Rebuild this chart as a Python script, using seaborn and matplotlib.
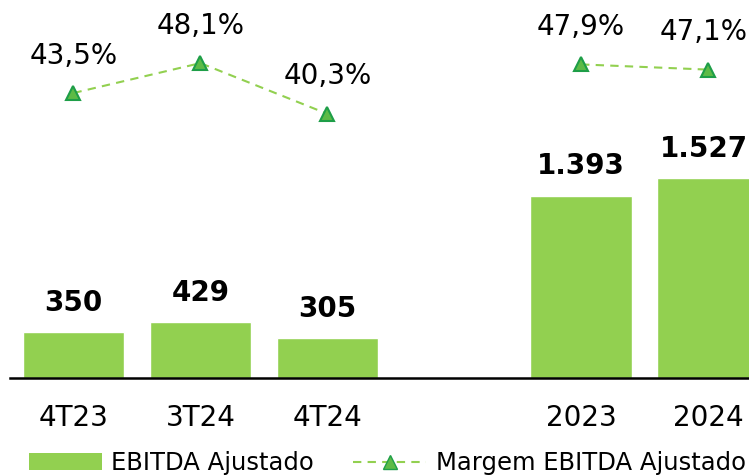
import pandas as pd
import seaborn as sns
import matplotlib.pyplot as plt
from matplotlib.lines import Line2D
from matplotlib.patches import Patch

# Data
periods = ['4T23', '3T24', '4T24', '2023', '2024']
ebitda = [350, 429, 305, 1393, 1527]
margem = [43.5, 48.1, 40.3, 47.9, 47.1]
ebitda_labels = ['350', '429', '305', '1.393', '1.527']
margem_labels = ['43,5%', '48,1%', '40,3%', '47,9%', '47,1%']
groups = [['4T23', '3T24', '4T24'], ['2023', '2024']]

# blank slot separates quarters from years
order = ['4T23', '3T24', '4T24', ' ', '2023', '2024']

bar_color = '#92D050'
line_color = '#92D050'
marker_face = '#5DBB46'
marker_edge = '#1E9E48'

sns.set_style('white')
plt.rcParams['font.family'] = ['DejaVu Sans']
plt.rcParams['text.color'] = 'black'
plt.rcParams['xtick.color'] = 'black'

df = pd.DataFrame({'Periodo': periods, 'EBITDA': ebitda, 'Margem': margem})

fig = plt.figure(figsize=(7.49, 4.75), dpi=100)
ax = fig.add_axes([0.0134, 0.2042, 0.9866, 0.7958])

sns.barplot(data=df, x='Periodo', y='EBITDA', order=order, color=bar_color,
            width=0.8, saturation=1, ax=ax)
ax.set_xlim(-0.5, 5.323)
ax.set_ylim(0, 2886)

# last column sits on the right edge, nudge its labels inward
def nudge(p):
    return -3 if p == periods[-1] else 0

for p, v, lab in zip(periods, ebitda, ebitda_labels):
    ax.annotate(lab, (order.index(p), v), xytext=(nudge(p), 21), textcoords='offset points',
                ha='center', va='center', fontsize=20, fontweight='bold')

# margin line on a twin axis
ax2 = ax.twinx()
ax2.set_ylim(-0.35, 57.81)
for g in groups:
    xs = [order.index(p) for p in g]
    ys = [margem[periods.index(p)] for p in g]
    sns.lineplot(x=xs, y=ys, ax=ax2, color=line_color, linestyle=(0, (4, 3)), linewidth=1.5,
                 marker='^', markersize=10, markerfacecolor=marker_face,
                 markeredgecolor=marker_edge, markeredgewidth=1.5)

for p, v, lab in zip(periods, margem, margem_labels):
    ax2.annotate(lab, (order.index(p), v), xytext=(nudge(p), 27), textcoords='offset points',
                 ha='center', va='center', fontsize=20)

for a in (ax, ax2):
    for s in ['top', 'right', 'left']:
        a.spines[s].set_visible(False)
    a.set_yticks([])
    a.set_ylabel('')
ax2.spines['bottom'].set_visible(False)
ax.spines['bottom'].set_color('black')
ax.spines['bottom'].set_linewidth(1.8)
ax.set_xlabel('')
ax.tick_params(axis='x', length=0, pad=19, labelsize=20)

handles = [Patch(facecolor=bar_color, edgecolor='none', label='EBITDA Ajustado'),
           Line2D([], [], color=line_color, linestyle=(0, (4, 3)), linewidth=1.5, marker='^',
                  markersize=10, markerfacecolor=marker_face, markeredgecolor=marker_edge,
                  label='Margem EBITDA Ajustado')]
fig.legend(handles=handles, loc='center', bbox_to_anchor=(0.517, 0.025), ncol=2,
           frameon=False, fontsize=17.5, handlelength=3.0, handleheight=0.7,
           columnspacing=1.6, handletextpad=0.4)

plt.savefig('out.png', dpi=100)
